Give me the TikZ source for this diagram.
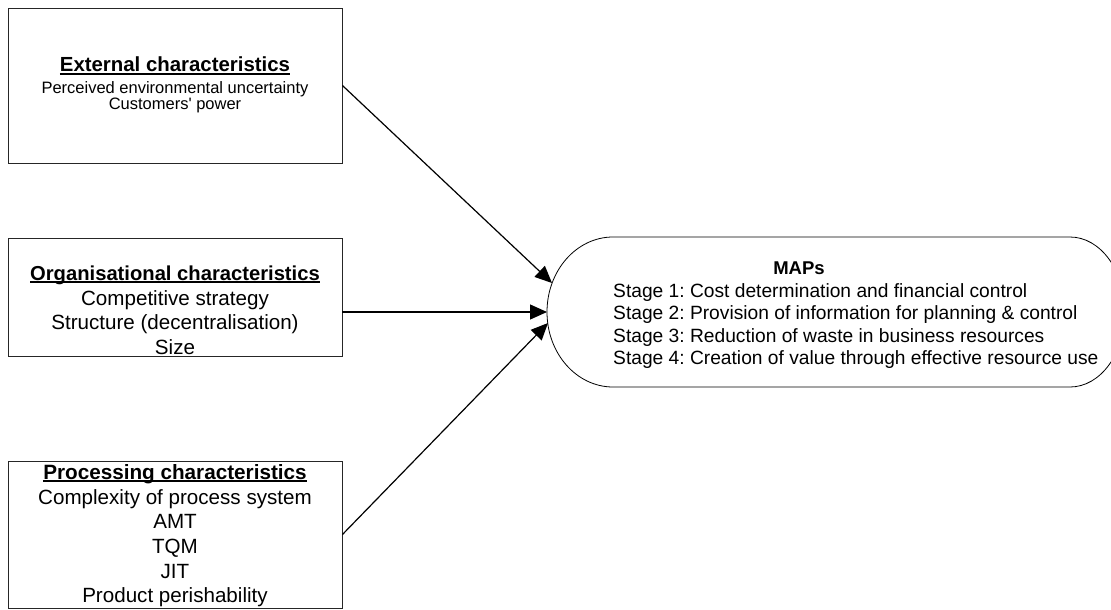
\documentclass[tikz,border=0pt]{standalone}
\usepackage{fontspec}
\setmainfont{Liberation Sans}[Ligatures=TeXOff]
\usetikzlibrary{arrows.meta}
\newcommand\myul[1]{\setbox0\hbox{#1}\rlap{\rule[-3pt]{\wd0}{1.7pt}}\box0}
\frenchspacing
\begin{document}
\begin{tikzpicture}[x=1pt,y=1pt,
  boxst/.style={draw=black!85, line width=0.9pt, minimum width=334pt, inner sep=0pt, fill=none},
  txt/.style={inner sep=0pt, anchor=base},
  hd/.style={txt, font=\bfseries\fontsize{20.4}{24}\selectfont},
  bd/.style={txt, font=\fontsize{20.6}{24}\selectfont},
  sm/.style={txt, font=\fontsize{16.5}{18}\selectfont},
  st/.style={inner sep=0pt, anchor=base west, font=\fontsize{19.2}{22}\selectfont},
  arr/.style={line width=1.2pt, -{Triangle[length=17pt,width=15pt]}}
]
\useasboundingbox (0,0) rectangle (1111,-610);
\fill[white] (0,0) rectangle (1111,-610);
\begin{scope}
\clip (0,0) rectangle (1111,-610);
% boxes
\node[boxst, minimum height=155pt] (box1) at (175,-85.5) {};
\node[boxst, minimum height=118pt] (box2) at (175,-297) {};
\node[boxst, minimum height=147pt] (box3) at (175,-534.5) {};
% MAPs shape
\draw[line width=0.8pt] (613,-237) -- (1070,-237)
  arc[start angle=90, end angle=-90, x radius=55, y radius=75]
  -- (613,-387)
  arc[start angle=270, end angle=90, x radius=66, y radius=75] -- cycle;
\end{scope}
% box 1 text
\node[hd] (e0) at (175,-72) {\myul{External characteristics}};
\node[sm] (e1) at (175,-93) {Perceived environmental uncertainty};
\node[sm] (e2) at (175,-110) {Customers{\char39} power};
% box 2 text
\node[hd, font=\bfseries\fontsize{20.2}{24}\selectfont] (o0) at (175,-280) {\myul{Organisational characteristics}};
\node[bd] (o1) at (175,-305) {Competitive strategy};
\node[bd] (o2) at (175,-329.5) {Structure (decentralisation)};
\node[bd] (o3) at (175,-354) {Size};
% box 3 text
\node[hd, font=\bfseries\fontsize{20.7}{24}\selectfont] (p0) at (175,-479) {\myul{Processing characteristics}};
\node[bd] (p1) at (175,-504) {Complexity of process system};
\node[bd] (p2) at (175,-528.5) {AMT};
\node[bd] (p3) at (175,-553) {TQM};
\node[bd] (p4) at (175,-578) {JIT};
\node[bd] (p5) at (175,-602.5) {Product perishability};
% MAPs text
\node[txt, font=\bfseries\fontsize{18.5}{22}\selectfont] (m0) at (799,-274) {MAPs};
\node[st] (m1) at (613,-297.5) {Stage 1: Cost determination and financial control};
\node[st] (m2) at (613,-319.8) {Stage 2: Provision of information for planning \& control};
\node[st] (m3) at (613,-342.1) {Stage 3: Reduction of waste in business resources};
\node[st] (m4) at (613,-364.4) {Stage 4: Creation of value through effective resource use};
% arrow ends
\coordinate (t1) at (552,-283);
\coordinate (s2) at (342,-312);
\coordinate (t2) at (547,-312);
\coordinate (t3) at (548,-323);
\draw[arr] (box1.east) -- (t1);
\draw[arr] (s2) -- (t2);
\draw[arr] (box3.east) -- (t3);
\end{tikzpicture}
\end{document}
